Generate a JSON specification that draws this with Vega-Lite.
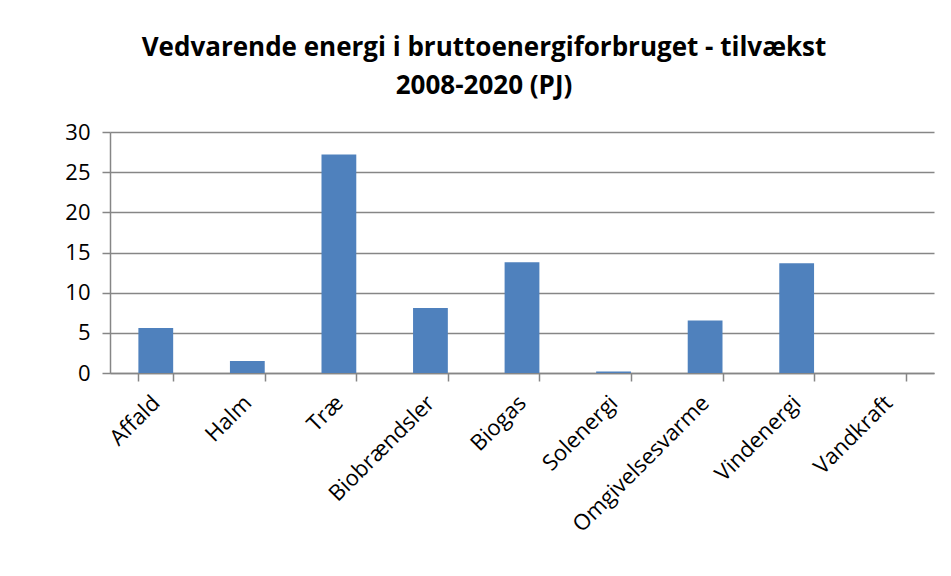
{
  "$schema": "https://vega.github.io/schema/vega-lite/v6.json",
  "width": 824,
  "height": 241,
  "autosize": {"type": "none"},
  "padding": {"left": 110, "top": 132, "right": 17, "bottom": 203},
  "background": "white",
  "title": {
    "text": ["Vedvarende energi i bruttoenergiforbruget - tilvækst", "2008-2020 (PJ)"],
    "font": "Open Sans",
    "fontSize": 26,
    "fontWeight": "bold",
    "color": "#000000",
    "anchor": "middle",
    "dx": -38,
    "offset": 22,
    "lineHeight": 38
  },
  "data": {
    "values": [
      {"kategori": "Affald", "pj": 5.6},
      {"kategori": "Halm", "pj": 1.5},
      {"kategori": "Træ", "pj": 27.2},
      {"kategori": "Biobrændsler", "pj": 8.1},
      {"kategori": "Biogas", "pj": 13.8},
      {"kategori": "Solenergi", "pj": 0.2},
      {"kategori": "Omgivelsesvarme", "pj": 6.55},
      {"kategori": "Vindenergi", "pj": 13.65},
      {"kategori": "Vandkraft", "pj": 0}
    ]
  },
  "mark": {"type": "bar", "color": "#4F81BD"},
  "encoding": {
    "x": {
      "field": "kategori",
      "type": "nominal",
      "sort": null,
      "title": null,
      "scale": {"paddingInner": 0.62, "paddingOuter": 0.31},
      "axis": {
        "labelAngle": -45,
        "labelAlign": "right",
        "labelBaseline": "middle",
        "labelFont": "Open Sans",
        "labelFontSize": 22,
        "labelColor": "#000000",
        "labelPadding": 18,
        "labelLimit": 400,
        "domainColor": "#868686",
        "domainWidth": 1.5,
        "tickColor": "#868686",
        "tickSize": 8,
        "tickWidth": 1.5,
        "tickBand": "extent",
        "grid": false
      }
    },
    "y": {
      "field": "pj",
      "type": "quantitative",
      "title": null,
      "scale": {"domain": [0, 30], "nice": false},
      "axis": {
        "values": [0, 5, 10, 15, 20, 25, 30],
        "labelFont": "Open Sans",
        "labelFontSize": 22,
        "labelColor": "#000000",
        "labelPadding": 12,
        "domainColor": "#868686",
        "domainWidth": 1.5,
        "tickColor": "#868686",
        "tickSize": 8,
        "tickWidth": 1.5,
        "gridColor": "#868686",
        "gridWidth": 1.5
      }
    }
  },
  "config": {"view": {"stroke": null}}
}
